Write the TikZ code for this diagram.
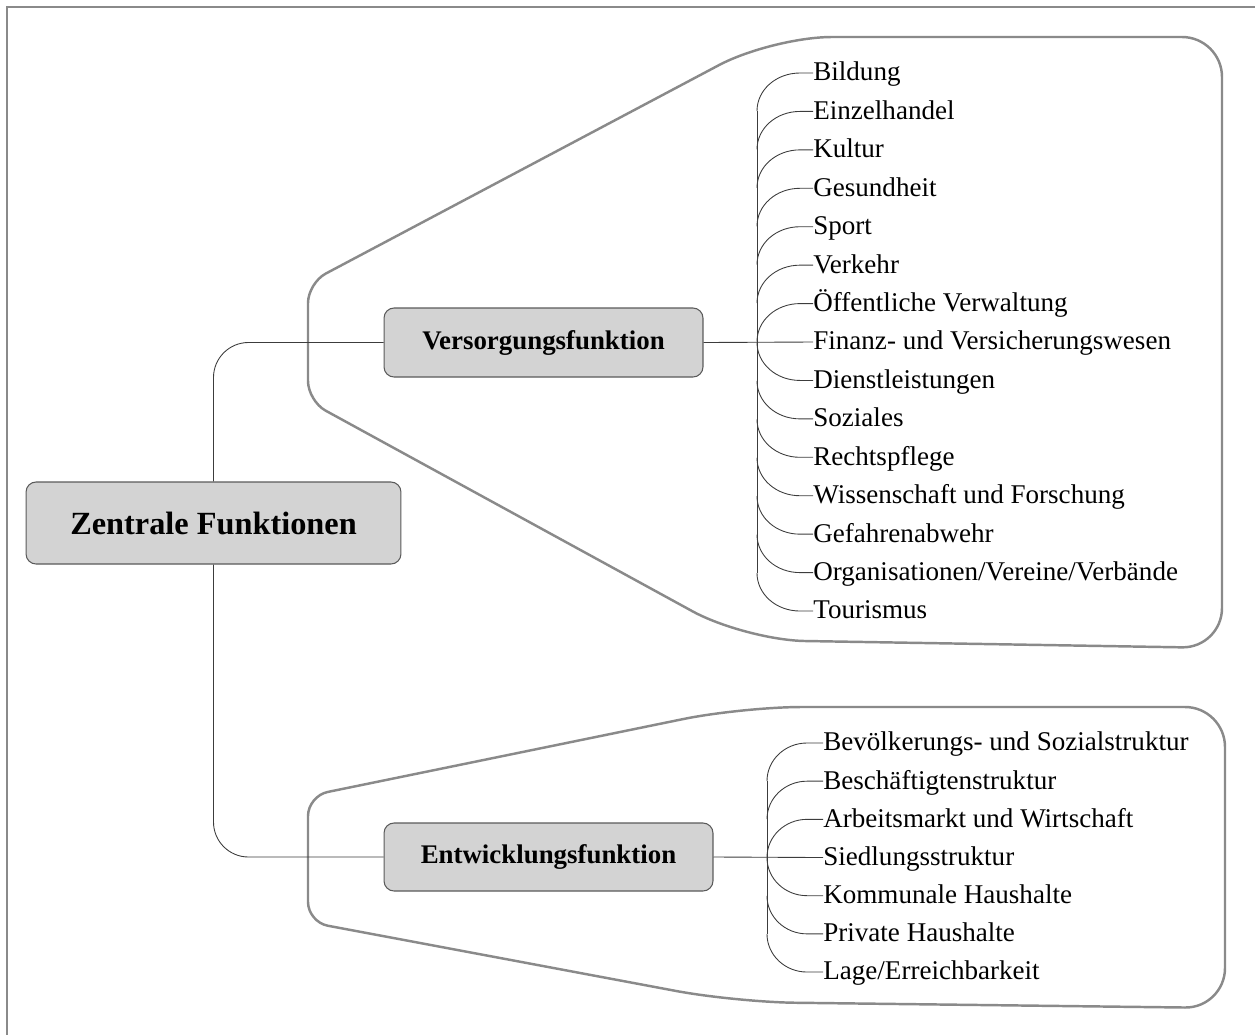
\documentclass[tikz,border=0pt]{standalone}
\usepackage{fontspec}
\setmainfont{Liberation Serif}
\usetikzlibrary{calc}
\definecolor{boxfill}{HTML}{D3D3D3}
\definecolor{boxline}{HTML}{5A5A5A}
\definecolor{hullgrey}{HTML}{8A8A8A}
\definecolor{wiregrey}{HTML}{3C3C3C}

\begin{document}
\begin{tikzpicture}[
    x=0.02cm, y=-0.02cm,
    every node/.style={font=\fontsize{15.4}{18}\selectfont},
    fbox/.style={draw=boxline,fill=boxfill,rounded corners=0.2cm,line width=0.6pt,
                 font=\fontsize{15.3}{18}\selectfont\bfseries},
    item/.style={anchor=west,inner xsep=0pt,inner ysep=0pt,text height=1.1em,text depth=0.2em},
    wire/.style={draw=wiregrey,line width=0.5pt},
    hull/.style={draw=hullgrey,line width=1.4pt},
  ]
  \useasboundingbox (0,0) rectangle (1255,1035);
  \draw[draw=hullgrey,line width=0.8pt] (7,1035) -- (7,7) -- (1255,7);

  % envelopes
  \draw[hull] (308,342) [rounded corners=0.4cm] -- (308,283) [rounded corners=1.2cm]
    -- (772,37) [rounded corners=0.8cm] -- (1222,37) -- (1222,648)
    [rounded corners=1.2cm] -- (745,640) [rounded corners=0.4cm] -- (308,401) -- cycle;
  \draw[hull] (308,857) [rounded corners=0.4cm] -- (308,796) [rounded corners=1.2cm]
    -- (742,707) [rounded corners=0.8cm] -- (1225,707) -- (1225,1008)
    [rounded corners=1.2cm] -- (735,1002) [rounded corners=0.4cm] -- (308,922) -- cycle;

  \node[fbox,minimum width=7.5cm,minimum height=1.64cm,
        font=\fontsize{18.4}{22}\selectfont\bfseries] (root) at (213.5,523) {Zentrale Funktionen};
  \node[fbox,minimum width=6.38cm,minimum height=1.38cm] (vf) at (543.5,342.5) {Versorgungsfunktion};
  \node[fbox,minimum width=6.58cm,minimum height=1.36cm] (ef) at (548.5,857) {Entwicklungsfunktion};

  \draw[wire,rounded corners=0.7cm] (root.north) |- (vf.west);
  \draw[wire,rounded corners=0.7cm] (root.south) |- (ef.west);

  % Versorgungsfunktion
  \foreach \t [count=\i] in {Bildung,Einzelhandel,Kultur,Gesundheit,Sport,Verkehr,
      Öffentliche Verwaltung,Finanz- und Versicherungswesen,Dienstleistungen,Soziales,
      Rechtspflege,Wissenschaft und Forschung,Gefahrenabwehr,
      Organisationen/Vereine/Verbände,Tourismus}
    \node[item] (v\i) at (813,{73+38.43*(\i-1)}) {\t};
  \draw[wire] (vf.east) -- (v8.west);
  \draw[wire] ($(v1.west)+(-56,38)$) -- ($(v15.west)+(-56,-38)$);
  \foreach \i in {1,...,7}
    \draw[wire] (v\i.west) -- ++(-13,0) .. controls ($(v\i.west)+(-37,0)$)
      and ($(v\i.west)+(-56,17)$) .. ($(v\i.west)+(-56,38)$);
  \foreach \i in {9,...,15}
    \draw[wire] (v\i.west) -- ++(-13,0) .. controls ($(v\i.west)+(-37,0)$)
      and ($(v\i.west)+(-56,-17)$) .. ($(v\i.west)+(-56,-38)$);

  % Entwicklungsfunktion
  \foreach \t [count=\i] in {Bevölkerungs- und Sozialstruktur,Beschäftigtenstruktur,
      Arbeitsmarkt und Wirtschaft,Siedlungsstruktur,Kommunale Haushalte,
      Private Haushalte,Lage/Erreichbarkeit}
    \node[item] (e\i) at (823,{743+38.17*(\i-1)}) {\t};
  \draw[wire] (ef.east) -- (e4.west);
  \draw[wire] ($(e1.west)+(-56,38)$) -- ($(e7.west)+(-56,-38)$);
  \foreach \i in {1,2,3}
    \draw[wire] (e\i.west) -- ++(-16,0) .. controls ($(e\i.west)+(-38,0)$)
      and ($(e\i.west)+(-56,17)$) .. ($(e\i.west)+(-56,38)$);
  \foreach \i in {5,6,7}
    \draw[wire] (e\i.west) -- ++(-16,0) .. controls ($(e\i.west)+(-38,0)$)
      and ($(e\i.west)+(-56,-17)$) .. ($(e\i.west)+(-56,-38)$);
\end{tikzpicture}
\end{document}
